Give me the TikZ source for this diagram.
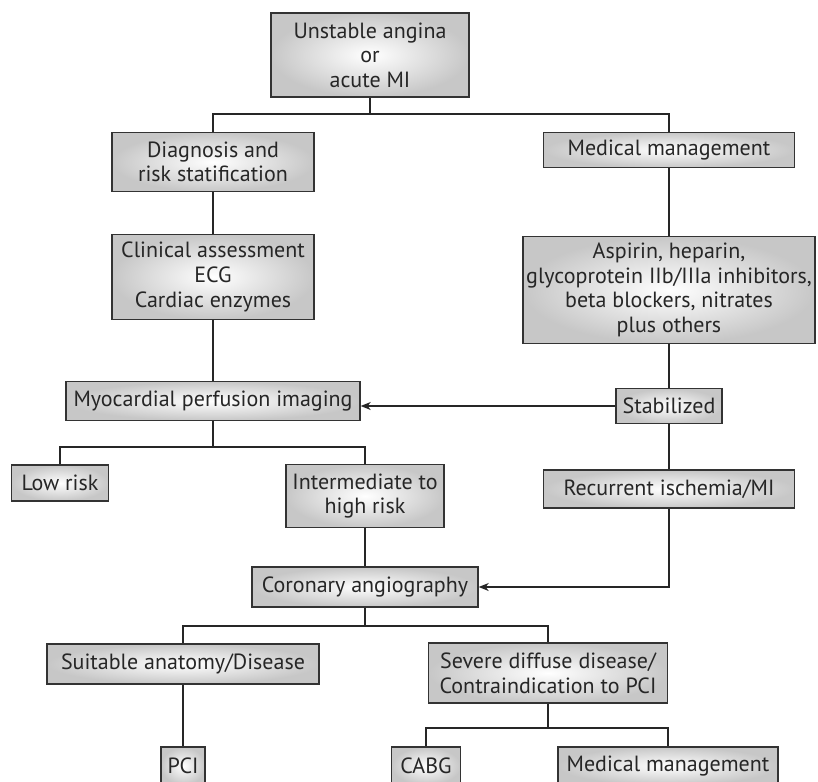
\documentclass[tikz,border=0pt]{standalone}
\usepackage{fontspec}
\setmainfont{PT Sans}
\usetikzlibrary{arrows.meta,positioning,calc}

\tikzset{
  stepbox/.style={draw=black!80, line width=0.7pt, shading=radial,
    inner color=white, outer color=black!22, align=center, inner sep=0pt,
    text=black!85, font=\fontsize{11}{12.3}\selectfont},
  boxdim/.style 2 args={minimum width=#1*0.5pt, minimum height=#2*0.5pt},
  link/.style={line width=0.6pt, draw=black!85},
  feed/.style={link, -{Stealth[length=5pt,width=4pt,inset=1.5pt]}}
}

\begin{document}
\begin{tikzpicture}[x=0.5pt, y=-0.5pt]
\useasboundingbox (0,0) rectangle (818,781);
\clip (0,0) rectangle (818,781);

% left branch: diagnosis
\node[stepbox, boxdim={198}{84}] (onset) at (370,55) {Unstable angina\\or\\acute MI};
\node[stepbox, boxdim={202}{59}] (diag) at (213,162) {Diagnosis and\\risk statification};
\node[stepbox, boxdim={202}{85}] (clinical) at (213,277) {Clinical assessment\\ECG\\Cardiac enzymes};
\node[stepbox, boxdim={294}{39}] (mpi) at (213,401) {Myocardial perfusion imaging};
\node[stepbox, boxdim={97}{36}] (lowrisk) at (60,483) {Low risk};
\node[stepbox, boxdim={158}{63}] (highrisk) at (365,496) {Intermediate to\\high risk};
\node[stepbox, boxdim={226}{40}] (angio) at (365,587) {Coronary angiography};
\node[stepbox, boxdim={272}{40}] (suitable) at (183,664) {Suitable anatomy/Disease};
\node[stepbox, boxdim={239}{60}] (severe) at (548,673) {Severe diffuse disease/\\Contraindication to PCI};
\node[stepbox, boxdim={44}{38}] (pci) at (183,766) {PCI};
\node[stepbox, boxdim={69}{38}] (cabg) at (426,766) {CABG};
\node[stepbox, boxdim={220}{38}] (medical2) at (668,766) {Medical management};

% right branch: treatment
\node[stepbox, boxdim={251}{35}] (medmgmt) at (669,150) {Medical management};
\node[stepbox, boxdim={292}{107}] (drugs) at (669,290) {Aspirin, heparin,\\glycoprotein IIb/IIIa inhibitors,\\beta blockers, nitrates\\plus others};
\node[stepbox, boxdim={106}{35}] (stable) at (669,406) {Stabilized};
\node[stepbox, boxdim={251}{38}] (recur) at (669,489) {Recurrent ischemia/MI};

% connectors
\coordinate (split1) at (370,114);
\coordinate (split2) at (213,447);
\coordinate (split3) at (365,626);
\coordinate (split4) at (548,728);

\draw[link] (onset.south) -- (split1);
\draw[link] (diag.north) |- (split1) -| (medmgmt.north);
\draw[link] (diag.south) -- (clinical.north);
\draw[link] (clinical.south) -- (mpi.north);
\draw[link] (medmgmt.south) -- (drugs.north);
\draw[link] (drugs.south) -- (stable.north);
\draw[feed] (stable.west) -- (stable.west -| mpi.east);
\draw[link] (mpi.south) -- (split2);
\draw[link] (lowrisk.north) |- (split2) -| (highrisk.north);
\draw[link] (highrisk.south) -- (angio.north);
\draw[link] (stable.south) -- (recur.north);
\draw[feed] (recur.south) |- (angio.east);
\draw[link] (angio.south) -- (split3);
\draw[link] (suitable.north) |- (split3) -| (severe.north);
\draw[link] (suitable.south) -- (pci.north);
\draw[link] (severe.south) -- (split4);
\draw[link] (cabg.north) |- (split4) -| (medical2.north);

\end{tikzpicture}
\end{document}
